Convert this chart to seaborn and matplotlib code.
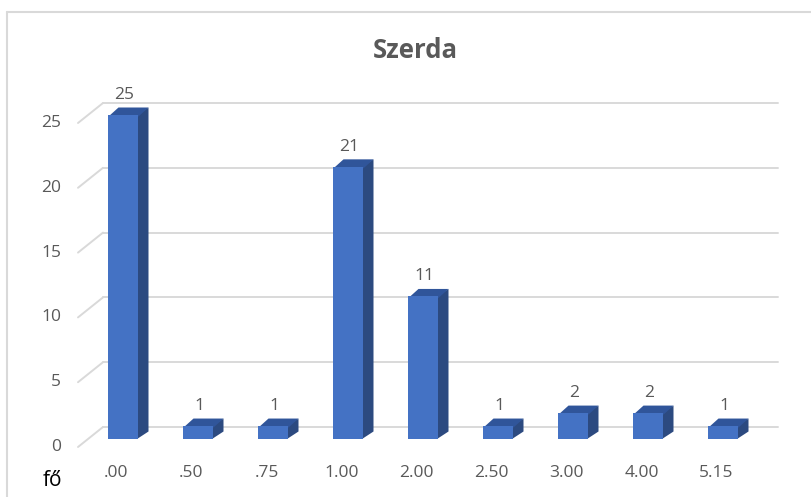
import matplotlib
matplotlib.use("Agg")
import matplotlib.pyplot as plt
from matplotlib.patches import Polygon
from matplotlib.lines import Line2D
import seaborn as sns
import pandas as pd

# Wednesday counts per category
categories = [".00", ".50", ".75", "1.00", "2.00", "2.50", "3.00", "4.00", "5.15"]
counts = [25, 1, 1, 21, 11, 1, 2, 2, 1]
y_ticks = [0, 5, 10, 15, 20, 25]
title = "Szerda"
unit_label = "fő"

FRONT = "#4472C4"
SIDE = "#2C4A80"
TOP = "#30559A"
GRID = "#D9D9D9"
TEXT = "#595959"

sns.set_theme(style="white")
plt.rcParams["font.family"] = ["Open Sans", "DejaVu Sans"]

W, H = 812, 497
fig = plt.figure(figsize=(W / 100, H / 100), dpi=100)

# axes box in pixels (bar plane)
x0, x1 = 86, 761
ybase, ytop = 439, 115
ax = fig.add_axes([x0 / W, (H - ybase) / H, (x1 - x0) / W, (ybase - ytop) / H])
ax.set_xlim(-0.5, len(categories) - 0.5)
ax.set_ylim(0, 25)
ax.axis("off")

px_x = (x1 - x0) / len(categories)   # pixels per category
px_y = (ybase - ytop) / 25.0          # pixels per unit


def ux(p):
    return p / px_x


def uy(p):
    return p / px_y


# floor and back wall grid
for v in y_ticks:
    back_y = v + uy(12)
    front_y = v - uy(8)
    ax.plot([-0.5 + ux(17), len(categories) - 0.5 + ux(17)], [back_y, back_y],
            color=GRID, lw=1.4, clip_on=False, zorder=1)
    ax.plot([-0.5 - ux(8), -0.5 + ux(17)], [front_y, back_y],
            color=GRID, lw=1.4, clip_on=False, zorder=1)
    ax.text(-0.5 - ux(25), front_y, str(v), ha="right", va="center",
            fontsize=12.5, color=TEXT, clip_on=False)

df = pd.DataFrame({"cat": categories, "n": counts})
sns.barplot(data=df, x="cat", y="n", order=categories, color=FRONT,
            width=0.4, saturation=1, ax=ax, zorder=3)
ax.set_xlim(-0.5, len(categories) - 0.5)
ax.set_ylim(0, 25)
ax.axis("off")

dx, dy = ux(10), uy(7.5)
ox, oy = ux(1.5), uy(1.5)  # overlap under the front face to avoid seams
for bar in list(ax.patches):
    bar.set_edgecolor("none")
    bar.set_clip_on(False)
    bx, bw, bh = bar.get_x(), bar.get_width(), bar.get_height()
    side = Polygon([(bx + bw - ox, 0), (bx + bw + dx, dy), (bx + bw + dx, bh + dy),
                    (bx + bw - ox, bh)],
                   closed=True, facecolor=SIDE, edgecolor="none", zorder=2.8, clip_on=False)
    top = Polygon([(bx, bh - oy), (bx + dx, bh + dy), (bx + bw + dx, bh + dy),
                   (bx + bw, bh - oy)],
                  closed=True, facecolor=TOP, edgecolor="none", zorder=2.9, clip_on=False)
    ax.add_patch(side)
    ax.add_patch(top)
    ax.text(bx + bw / 2 + ux(1), bh + uy(20), f"{bh:g}", ha="center", va="center",
            fontsize=12.5, color=TEXT, clip_on=False, zorder=4)

for i, lab in enumerate(categories):
    ax.text(i - ux(7), -uy(34), lab, ha="center", va="center",
            fontsize=12.5, color=TEXT, clip_on=False)

fig.text(53 / W, 1 - 480 / H, unit_label, ha="center", va="center",
         fontsize=15, color="black")
fig.text(415 / W, 1 - 51 / H, title, ha="center", va="center",
         fontsize=18.5, fontweight="bold", color=TEXT)

# chart frame
fig.add_artist(Line2D([7 / W, 7 / W], [0, 1 - 12 / H], color=GRID, lw=1.5,
                      transform=fig.transFigure))
fig.add_artist(Line2D([7 / W, 1], [1 - 12 / H, 1 - 12 / H], color=GRID, lw=1.5,
                      transform=fig.transFigure))

fig.savefig("out.png", dpi=100, facecolor="white")
